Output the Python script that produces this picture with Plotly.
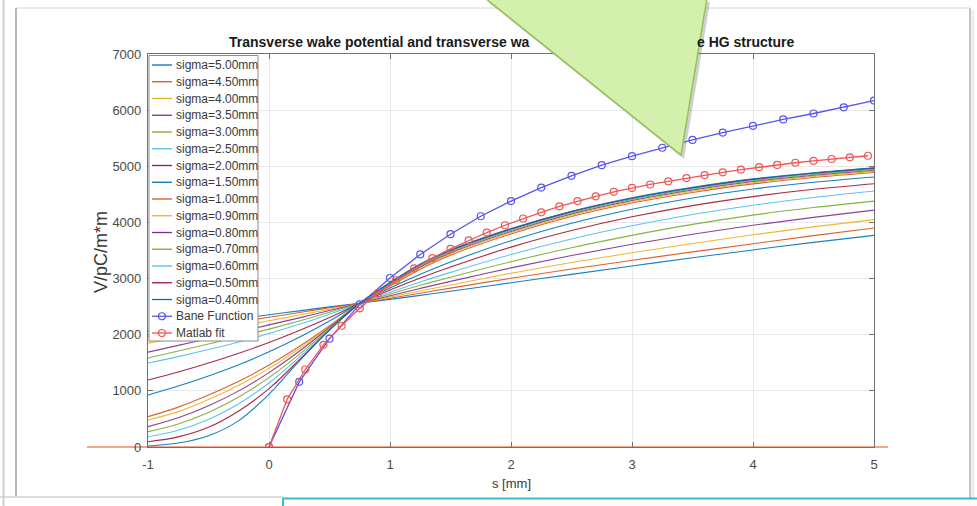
import plotly.graph_objects as go

# ---------------- data ----------------
s_grid = [-1, -0.75, -0.5, -0.25, 0, 0.25, 0.5, 0.75, 1, 1.25, 1.5, 2, 2.5, 3, 3.5, 4, 4.5, 5]

wake_sigma_5_00 = [2060, 2135, 2210, 2285, 2355, 2425, 2495, 2560, 2630, 2700, 2775, 2925, 3075, 3225, 3370, 3510, 3645, 3770]
wake_sigma_4_50 = [1970, 2055, 2140, 2225, 2310, 2395, 2480, 2560, 2650, 2740, 2830, 3005, 3170, 3325, 3475, 3620, 3765, 3900]
wake_sigma_4_00 = [1850, 1945, 2045, 2145, 2250, 2350, 2455, 2560, 2670, 2780, 2885, 3095, 3285, 3460, 3625, 3780, 3920, 4050]
wake_sigma_3_50 = [1690, 1810, 1930, 2050, 2175, 2300, 2430, 2560, 2695, 2825, 2950, 3190, 3410, 3610, 3790, 3950, 4090, 4220]
wake_sigma_3_00 = [1585, 1710, 1835, 1965, 2100, 2245, 2400, 2560, 2725, 2880, 3025, 3300, 3550, 3770, 3965, 4130, 4265, 4380]
wake_sigma_2_50 = [1496, 1610, 1735, 1870, 2020, 2185, 2365, 2560, 2755, 2940, 3110, 3430, 3705, 3940, 4140, 4305, 4445, 4560]
wake_sigma_2_00 = [1193, 1335, 1495, 1670, 1862, 2075, 2305, 2560, 2795, 3010, 3205, 3560, 3855, 4100, 4300, 4460, 4590, 4690]
wake_sigma_1_50 = [926, 1085, 1265, 1465, 1695, 1955, 2245, 2560, 2830, 3075, 3295, 3675, 3985, 4235, 4435, 4595, 4715, 4810]
wake_sigma_1_00 = [540, 710, 925, 1170, 1460, 1790, 2160, 2560, 2865, 3165, 3415, 3795, 4105, 4345, 4533, 4686, 4800, 4890]
wake_sigma_0_90 = [481, 630, 845, 1100, 1400, 1750, 2145, 2560, 2880, 3190, 3440, 3818, 4128, 4368, 4556, 4708, 4820, 4910]
wake_sigma_0_80 = [362, 520, 735, 1000, 1325, 1705, 2130, 2560, 2895, 3210, 3460, 3840, 4150, 4390, 4577, 4728, 4840, 4930]
wake_sigma_0_70 = [273, 410, 615, 890, 1235, 1650, 2110, 2560, 2905, 3225, 3475, 3858, 4168, 4408, 4593, 4743, 4854, 4945]
wake_sigma_0_60 = [183, 300, 490, 770, 1140, 1600, 2095, 2560, 2915, 3240, 3490, 3872, 4182, 4422, 4607, 4757, 4867, 4958]
wake_sigma_0_50 = [94, 180, 350, 640, 1040, 1550, 2085, 2560, 2925, 3250, 3500, 3882, 4192, 4432, 4617, 4767, 4877, 4968]
wake_sigma_0_40 = [18, 70, 200, 470, 940, 1530, 2080, 2560, 2930, 3260, 3510, 3890, 4200, 4440, 4625, 4775, 4885, 4975]

sigma_labels = ["sigma=5.00mm", "sigma=4.50mm", "sigma=4.00mm", "sigma=3.50mm", "sigma=3.00mm",
                "sigma=2.50mm", "sigma=2.00mm", "sigma=1.50mm", "sigma=1.00mm", "sigma=0.90mm",
                "sigma=0.80mm", "sigma=0.70mm", "sigma=0.60mm", "sigma=0.50mm", "sigma=0.40mm"]

bane_s = [0, 0.25, 0.5, 0.75, 1.0, 1.25, 1.5, 1.75, 2.0, 2.25, 2.5, 2.75, 3.0, 3.25, 3.5,
          3.75, 4.0, 4.25, 4.5, 4.75, 5.0]
bane_w = [0, 1160, 1930, 2540, 3010, 3430, 3790, 4110, 4380, 4620, 4830, 5020, 5180, 5330, 5470,
          5600, 5720, 5835, 5940, 6050, 6170]

fit_s = [0, 0.15, 0.3, 0.45, 0.6, 0.75, 0.9, 1.05, 1.2, 1.35, 1.5, 1.65, 1.8, 1.95, 2.1, 2.25,
         2.4, 2.55, 2.7, 2.85, 3.0, 3.15, 3.3, 3.45, 3.6, 3.75, 3.9, 4.05, 4.2, 4.35, 4.5, 4.65,
         4.8, 4.95]
fit_w = [0, 850, 1380, 1820, 2160, 2470, 2740, 2970, 3180, 3365, 3530, 3680, 3820, 3950, 4070, 4180,
         4285, 4380, 4465, 4545, 4615, 4676, 4733, 4790, 4843, 4893, 4940, 4984, 5025, 5063, 5098, 5130,
         5160, 5188]

x_ticks = [-1, 0, 1, 2, 3, 4, 5]
y_ticks = [0, 1000, 2000, 3000, 4000, 5000, 6000, 7000]

title_left = "Transverse wake potential and transverse wa"
title_right = "e HG structure"
x_title = "s [mm]"
y_title = "V/pC/m*m"
bane_label = "Bane Function"
fit_label = "Matlab fit"

# ---------------- styling ----------------
matlab_colors = ["#0072BD", "#D95319", "#EDB120", "#7E2F8E", "#77AC30", "#4DBEEE", "#A2142F"]
bane_color = "rgb(85,85,240)"
fit_color = "rgb(240,85,85)"
FONT = "Liberation Sans, Arial, Helvetica, sans-serif"
TXT = "#3a3a3a"

W, H = 977, 506
PL, PR, PT, PB = 148, 874, 54, 447


def px(x):
    return (x - PL) / (PR - PL)


def py(y):
    return (PB - y) / (PB - PT)


wake_series = [wake_sigma_5_00, wake_sigma_4_50, wake_sigma_4_00, wake_sigma_3_50, wake_sigma_3_00,
               wake_sigma_2_50, wake_sigma_2_00, wake_sigma_1_50, wake_sigma_1_00, wake_sigma_0_90,
               wake_sigma_0_80, wake_sigma_0_70, wake_sigma_0_60, wake_sigma_0_50, wake_sigma_0_40]

fig = go.Figure()
for i, (lab, vals) in enumerate(zip(sigma_labels, wake_series)):
    fig.add_trace(go.Scatter(
        x=s_grid, y=vals, mode="lines", name=lab,
        line=dict(color=matlab_colors[i % 7], width=1.1, shape="spline", smoothing=1.0),
        opacity=0.9, showlegend=False))

fig.add_trace(go.Scatter(
    x=bane_s, y=bane_w, mode="lines+markers", name=bane_label,
    line=dict(color=bane_color, width=1.3),
    marker=dict(symbol="circle-open", size=7, color=bane_color, line=dict(width=1.2)),
    showlegend=False))
fig.add_trace(go.Scatter(
    x=fit_s, y=fit_w, mode="lines+markers", name=fit_label,
    line=dict(color=fit_color, width=1.3),
    marker=dict(symbol="circle-open", size=7, color=fit_color, line=dict(width=1.2)),
    showlegend=False))

shapes = []
annotations = []

# salmon line across the bottom (overlay on the slide)
shapes.append(dict(type="line", xref="paper", yref="paper", x0=px(87), x1=px(888), y0=py(447), y1=py(447),
                   line=dict(color="#f4a68c", width=2.2), layer="below"))

# manual legend (box, samples, labels)
shapes.append(dict(type="rect", xref="paper", yref="paper", x0=px(149), x1=px(258), y0=py(341), y1=py(55.5),
                   fillcolor="white", line=dict(color="#8c8c8c", width=1), layer="above"))
legend_labels = sigma_labels + [bane_label, fit_label]
legend_colors = [matlab_colors[i % 7] for i in range(15)] + [bane_color, fit_color]
for i, (lab, col) in enumerate(zip(legend_labels, legend_colors)):
    yc = 65 + i * 16.75
    shapes.append(dict(type="line", xref="paper", yref="paper", x0=px(152), x1=px(172), y0=py(yc), y1=py(yc),
                       line=dict(color=col, width=1.3), layer="above"))
    if i >= 15:
        shapes.append(dict(type="circle", xref="paper", yref="paper", x0=px(158.5), x1=px(165.5),
                           y0=py(yc + 3.5), y1=py(yc - 3.5), fillcolor="rgba(0,0,0,0)",
                           line=dict(color=col, width=1.2), layer="above"))
    annotations.append(dict(text=lab, xref="paper", yref="paper", x=px(174), y=py(yc), xanchor="left",
                            yanchor="middle", showarrow=False, font=dict(family=FONT, size=12, color=TXT)))

# slide frame
frame = [
    (3.5, 0, 3.5, 506, "#cfcfcf", 2),
    (16, 8, 16, 497, "#b8b8b8", 2),
    (17, 8, 970, 8, "#e4e4e4", 1.5),
    (970, 8, 970, 506, "#c4c4c4", 2),
    (973, 10, 973, 506, "#ececec", 3),
    (0, 497, 283, 497, "#d2d2d2", 1.5),
]
for x0, y0, x1, y1, c, w in frame:
    shapes.append(dict(type="line", xref="paper", yref="paper", x0=px(x0), x1=px(x1), y0=py(y0), y1=py(y1),
                       line=dict(color=c, width=w), layer="above"))

# cyan box at the bottom
shapes.append(dict(type="rect", xref="paper", yref="paper", x0=px(283), x1=px(995), y0=py(525), y1=py(498.5),
                   fillcolor="white", line=dict(color="#3db8d2", width=2), layer="above"))


# green callout triangle with shadow
def tri_path(dx, dy):
    pts = [(485 + dx, -2 + dy), (707 + dx, -2 + dy), (681 + dx, 155 + dy)]
    return "M {} {} L {} {} L {} {} Z".format(px(pts[0][0]), py(pts[0][1]), px(pts[1][0]), py(pts[1][1]),
                                              px(pts[2][0]), py(pts[2][1]))


shapes.append(dict(type="path", xref="paper", yref="paper", path=tri_path(3, 4),
                   fillcolor="rgba(120,120,120,0.35)", line=dict(width=0), layer="above"))
shapes.append(dict(type="path", xref="paper", yref="paper", path=tri_path(0, 0),
                   fillcolor="#d4f0ad", line=dict(color="#92c35a", width=1.5), layer="above"))

# title pieces visible around the callout
annotations.append(dict(text="<b>" + title_left + "</b>", xref="paper", yref="paper", x=px(227), y=py(42),
                        xanchor="left", yanchor="middle", showarrow=False,
                        font=dict(family=FONT, size=14, color="#1a1a1a")))
annotations.append(dict(text="<b>" + title_right + "</b>", xref="paper", yref="paper", x=px(796), y=py(42),
                        xanchor="right", yanchor="middle", showarrow=False,
                        font=dict(family=FONT, size=14, color="#1a1a1a")))
annotations.append(dict(text=x_title, xref="paper", yref="paper", x=px(511), y=py(484),
                        xanchor="center", yanchor="middle", showarrow=False,
                        font=dict(family=FONT, size=13, color=TXT)))
annotations.append(dict(text=y_title, xref="paper", yref="paper", x=px(101), y=py(252),
                        xanchor="center", yanchor="middle", showarrow=False, textangle=-90,
                        font=dict(family=FONT, size=18, color=TXT)))

axis_common = dict(showgrid=True, gridcolor="#e8e8e8", gridwidth=1, zeroline=False, showline=True,
                   linecolor="#707070", linewidth=1.2, mirror="ticks", ticks="inside", ticklen=5,
                   tickcolor="#707070", tickfont=dict(family=FONT, size=13, color="#4a4a4a"))

fig.update_layout(
    width=W, height=H, autosize=False,
    margin=dict(l=PL, r=W - PR, t=PT, b=H - PB, pad=0),
    paper_bgcolor="white", plot_bgcolor="white",
    showlegend=False,
    xaxis=dict(range=[-1, 5], tickvals=x_ticks, ticktext=[str(v) for v in x_ticks],
               ticklabelstandoff=5, **axis_common),
    yaxis=dict(range=[0, 7000], tickvals=y_ticks, ticktext=[str(v) for v in y_ticks],
               ticklabelstandoff=3, **axis_common),
    shapes=shapes, annotations=annotations,
)

fig.write_html("out.html", config={"displayModeBar": False},
               post_script="document.body.style.margin='0';document.body.style.overflow='hidden';")
